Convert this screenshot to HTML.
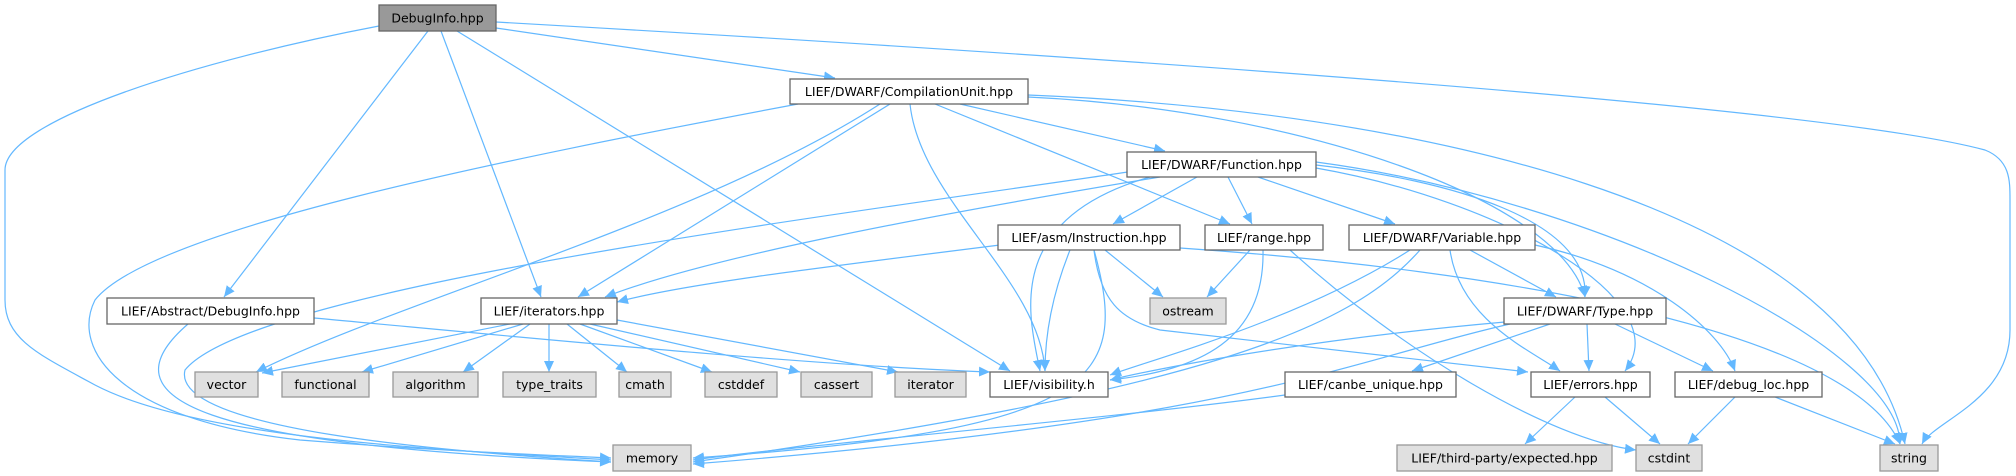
<!DOCTYPE html>
<html><head><meta charset="utf-8"><style>
html,body{margin:0;padding:0;background:#fff;}
svg{display:block;}
text{font-family:"DejaVu Sans","Liberation Sans",sans-serif;font-size:12.5px;fill:#000;}
.e{fill:none;stroke:#63b8ff;stroke-width:1.2;}
.n{fill:#fff;stroke:#666;stroke-width:1.3;}
.g{fill:#e0e0e0;stroke:#999;stroke-width:1.3;}
</style></head><body>
<svg width="2016" height="476" viewBox="0 0 2016 476" xmlns="http://www.w3.org/2000/svg">
<defs><marker id="a" markerUnits="userSpaceOnUse" markerWidth="12" markerHeight="10" refX="11" refY="5" orient="auto"><path d="M0,0 L11,5 L0,10 z" fill="#63b8ff"/></marker></defs>
<g class="e" marker-end="url(#a)">
<!-- DebugInfo -->
<path d="M379,26 C200,60 5,120 5,170 L5,300 C5,340 40,355 95,385 C200,440 450,450 611,460"/>
<path d="M428,31 L224,297"/>
<path d="M441,31 L541,297"/>
<path d="M457,31 L1010,371"/>
<path d="M496,28 L835,78"/>
<path d="M496,22 C900,45 1800,100 1985,150 C2010,160 2010,180 2010,200 L2010,330 C2010,400 1935,420 1922,444"/>
<!-- CompUnit -->
<path d="M798,104 C500,160 150,230 95,300 C70,350 120,420 300,440 C450,452 550,455 611,458"/>
<path d="M880,104 C700,220 400,300 256,372"/>
<path d="M890,104 L578,297"/>
<path d="M910,104 C920,200 1040,280 1045,371"/>
<path d="M960,104 L1165,151"/>
<path d="M935,104 L1230,224"/>
<path d="M1028,97 C1300,110 1560,200 1585,297"/>
<path d="M1028,95 C1400,110 1850,200 1905,444"/>
<!-- Function -->
<path d="M1128,172 C800,220 250,290 185,370 C170,430 450,452 611,462"/>
<path d="M1160,177 C900,220 700,260 605,297"/>
<path d="M1150,177 C1000,220 1030,320 1040,371"/>
<path d="M1197,177 L1113,224"/>
<path d="M1228,177 L1252,224"/>
<path d="M1258,177 L1395,224"/>
<path d="M1316,165 C1450,180 1590,220 1585,297"/>
<path d="M1316,168 C1500,200 1680,300 1625,371"/>
<path d="M1316,162 C1600,200 1900,350 1900,444"/>
<!-- Instruction -->
<path d="M1000,245 C800,270 680,285 617,302"/>
<path d="M1105,250 L1163,297"/>
<path d="M1070,250 C1050,300 1045,340 1045,371"/>
<path d="M1094,250 C1130,380 1100,430 693,458"/>
<path d="M1094,250 C1100,300 1120,320 1160,330 L1528,372"/>
<path d="M1180,248 C1500,270 1850,330 1900,444"/>
<!-- range -->
<path d="M1250,250 L1207,297"/>
<path d="M1263,250 C1265,340 1200,370 1110,380"/>
<path d="M1290,250 C1400,350 1550,440 1636,450"/>
<!-- Variable -->
<path d="M1410,250 C1300,320 1150,360 1110,375"/>
<path d="M1420,250 C1350,330 1200,390 693,462"/>
<path d="M1470,250 L1556,297"/>
<path d="M1450,250 C1460,320 1530,350 1560,371"/>
<path d="M1535,245 C1650,270 1720,330 1735,371"/>
<!-- Type -->
<path d="M1505,322 C1300,340 1150,370 1110,380"/>
<path d="M1510,324 C1350,360 1250,420 693,464"/>
<path d="M1550,324 L1412,371"/>
<path d="M1587,324 L1589,371"/>
<path d="M1615,324 L1713,371"/>
<path d="M1285,395 C1100,420 800,445 693,460"/>
<path d="M1575,397 L1525,444"/>
<path d="M1605,397 L1660,444"/>
<path d="M1735,397 L1688,444"/>
<path d="M1775,397 L1895,444"/>
<!-- Abstract -->
<path d="M188,324 C100,400 200,445 611,462"/>
<path d="M314,318 C500,335 800,365 990,372"/>
<!-- iterators -->
<path d="M510,324 L262,373"/>
<path d="M523,324 L362,372"/>
<path d="M530,324 L463,372"/>
<path d="M549,324 L549,372"/>
<path d="M567,324 L627,372"/>
<path d="M580,324 L712,372"/>
<path d="M590,324 L800,372"/>
<path d="M617,320 L898,372"/>
</g>
<g>
<rect x="379" y="5" width="117" height="26" fill="#999" stroke="#666" stroke-width="1.3"/><text x="437.5" y="22.5" text-anchor="middle">DebugInfo.hpp</text>
<rect class="n" x="790" y="79" width="238" height="25"/><text x="909" y="96" text-anchor="middle">LIEF/DWARF/CompilationUnit.hpp</text>
<rect class="n" x="1127" y="152" width="189" height="25"/><text x="1221.5" y="169" text-anchor="middle">LIEF/DWARF/Function.hpp</text>
<rect class="n" x="998" y="225" width="182" height="25"/><text x="1089" y="242" text-anchor="middle">LIEF/asm/Instruction.hpp</text>
<rect class="n" x="1205" y="225" width="118" height="25"/><text x="1264" y="242" text-anchor="middle">LIEF/range.hpp</text>
<rect class="n" x="1349" y="225" width="186" height="25"/><text x="1442" y="242" text-anchor="middle">LIEF/DWARF/Variable.hpp</text>
<rect class="g" x="1150" y="298" width="76" height="26"/><text x="1188" y="315.5" text-anchor="middle">ostream</text>
<rect class="n" x="1504" y="298" width="162" height="26"/><text x="1585" y="315.5" text-anchor="middle">LIEF/DWARF/Type.hpp</text>
<rect class="n" x="107" y="298" width="207" height="26"/><text x="210.5" y="315.5" text-anchor="middle">LIEF/Abstract/DebugInfo.hpp</text>
<rect class="n" x="481" y="298" width="136" height="26"/><text x="549" y="315.5" text-anchor="middle">LIEF/iterators.hpp</text>
<rect class="n" x="990" y="372" width="118" height="25"/><text x="1049" y="389" text-anchor="middle">LIEF/visibility.h</text>
<rect class="n" x="1285" y="372" width="171" height="25"/><text x="1370.5" y="389" text-anchor="middle">LIEF/canbe_unique.hpp</text>
<rect class="n" x="1531" y="372" width="119" height="25"/><text x="1590.5" y="389" text-anchor="middle">LIEF/errors.hpp</text>
<rect class="n" x="1675" y="372" width="147" height="25"/><text x="1748.5" y="389" text-anchor="middle">LIEF/debug_loc.hpp</text>
<rect class="g" x="195" y="372" width="63" height="25"/><text x="226.5" y="389" text-anchor="middle">vector</text>
<rect class="g" x="282" y="372" width="87" height="25"/><text x="325.5" y="389" text-anchor="middle">functional</text>
<rect class="g" x="393" y="372" width="85" height="25"/><text x="435.5" y="389" text-anchor="middle">algorithm</text>
<rect class="g" x="503" y="372" width="93" height="25"/><text x="549.5" y="389" text-anchor="middle">type_traits</text>
<rect class="g" x="619" y="372" width="52" height="25"/><text x="645" y="389" text-anchor="middle">cmath</text>
<rect class="g" x="705" y="372" width="72" height="25"/><text x="741" y="389" text-anchor="middle">cstddef</text>
<rect class="g" x="801" y="372" width="71" height="25"/><text x="836.5" y="389" text-anchor="middle">cassert</text>
<rect class="g" x="895" y="372" width="71" height="25"/><text x="930.5" y="389" text-anchor="middle">iterator</text>
<rect class="g" x="613" y="445" width="78" height="26"/><text x="652" y="462.5" text-anchor="middle">memory</text>
<rect class="g" x="1397" y="445" width="215" height="26"/><text x="1504.5" y="462.5" text-anchor="middle">LIEF/third-party/expected.hpp</text>
<rect class="g" x="1636" y="445" width="66" height="26"/><text x="1669" y="462.5" text-anchor="middle">cstdint</text>
<rect class="g" x="1880" y="445" width="58" height="26"/><text x="1909" y="462.5" text-anchor="middle">string</text>
</g>
</svg>
</body></html>
